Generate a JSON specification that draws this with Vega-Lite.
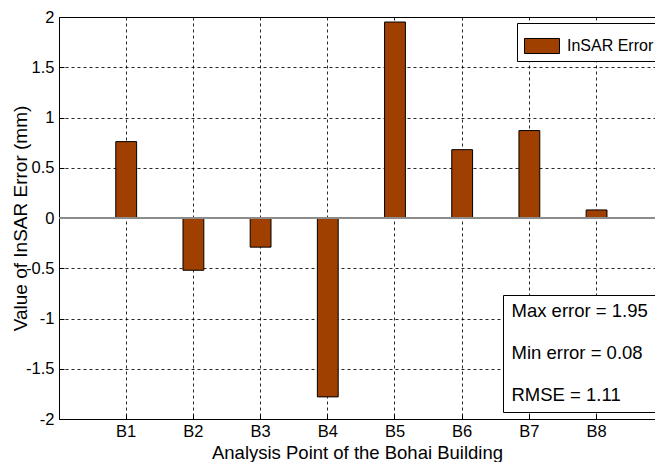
{
  "$schema": "https://vega.github.io/schema/vega-lite/v6.json",
  "autosize": {"type": "none"},
  "padding": {"left": 59, "top": 17, "right": 0, "bottom": 43},
  "width": 596,
  "height": 402,
  "background": "white",
  "config": {
    "font": "Liberation Sans",
    "view": {"stroke": "#000000", "strokeWidth": 1},
    "axis": {
      "domain": false,
      "grid": true,
      "gridColor": "#000000",
      "gridOpacity": 0.85,
      "gridDash": [3, 3],
      "gridWidth": 1,
      "ticks": true,
      "tickColor": "#000000",
      "tickSize": -5,
      "labelColor": "#000000",
      "titleColor": "#000000",
      "labelFont": "Liberation Sans",
      "titleFont": "Liberation Sans",
      "titleFontWeight": "normal"
    }
  },
  "datasets": {
    "errors": [
      {"point": "B1", "error": 0.76, "series": "InSAR Error"},
      {"point": "B2", "error": -0.52, "series": "InSAR Error"},
      {"point": "B3", "error": -0.29, "series": "InSAR Error"},
      {"point": "B4", "error": -1.78, "series": "InSAR Error"},
      {"point": "B5", "error": 1.95, "series": "InSAR Error"},
      {"point": "B6", "error": 0.68, "series": "InSAR Error"},
      {"point": "B7", "error": 0.87, "series": "InSAR Error"},
      {"point": "B8", "error": 0.08, "series": "InSAR Error"}
    ],
    "stats": [
      {"stat": "Max error = 1.95"},
      {"stat": "Min error = 0.08"},
      {"stat": "RMSE = 1.11"}
    ]
  },
  "layer": [
    {
      "data": {"name": "errors"},
      "mark": {"type": "bar", "stroke": "#000000", "strokeWidth": 1, "width": {"band": 0.31}},
      "encoding": {
        "x": {
          "field": "point",
          "type": "nominal",
          "sort": ["B1", "B2", "B3", "B4", "B5", "B6", "B7", "B8"],
          "scale": {"paddingInner": 0, "paddingOuter": 0.435, "align": 0.575},
          "axis": {
            "title": "Analysis Point of the Bohai Building",
            "titleFontSize": 18.5,
            "titlePadding": 4,
            "labelFontSize": 16.5,
            "labelAngle": 0,
            "labelPadding": 9,
            "bandPosition": 0.5
          }
        },
        "y": {
          "field": "error",
          "type": "quantitative",
          "scale": {"domain": [-2, 2], "nice": false, "zero": false},
          "axis": {
            "title": "Value of InSAR Error (mm)",
            "titleFontSize": 19,
            "titlePadding": -5,
            "labelFontSize": 16.5,
            "labelPadding": 10,
            "values": [-2, -1.5, -1, -0.5, 0, 0.5, 1, 1.5, 2],
            "labelExpr": "toString(datum.value)"
          }
        },
        "color": {
          "field": "series",
          "type": "nominal",
          "scale": {"range": ["#9f3f00"]},
          "legend": {
            "title": null,
            "orient": "none",
            "legendX": 458,
            "legendY": 6,
            "strokeColor": "#000000",
            "fillColor": "#ffffff",
            "padding": 5,
            "symbolOffset": 2,
            "symbolType": "M-1,-0.43H1V0.43H-1Z",
            "symbolSize": 1225,
            "symbolStrokeColor": "#000000",
            "symbolStrokeWidth": 1,
            "symbolOpacity": 1,
            "labelFontSize": 16,
            "labelColor": "#000000",
            "labelOffset": 7
          }
        }
      }
    },
    {
      "data": {"name": "errors"},
      "mark": {"type": "rule", "color": "#8c8c8c", "strokeWidth": 1.5},
      "encoding": {"y": {"datum": 0}}
    },
    {
      "data": {"name": "stats"},
      "mark": {"type": "point", "opacity": 0},
      "encoding": {
        "shape": {
          "field": "stat",
          "type": "nominal",
          "scale": {"domain": ["Max error = 1.95", "Min error = 0.08", "RMSE = 1.11"]},
          "legend": {
            "title": null,
            "orient": "none",
            "legendX": 444,
            "legendY": 278,
            "strokeColor": "#000000",
            "fillColor": "#ffffff",
            "padding": 7,
            "symbolOpacity": 0,
            "symbolSize": 1,
            "labelOffset": -17,
            "labelFontSize": 18.5,
            "labelColor": "#000000",
            "rowPadding": 23
          }
        }
      }
    }
  ]
}
